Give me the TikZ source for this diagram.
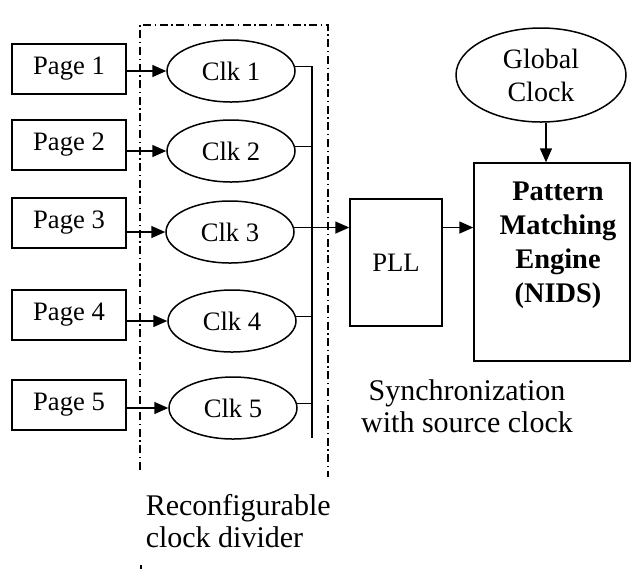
\documentclass[tikz,border=0pt]{standalone}
\usepackage{fontspec}
\setmainfont{Liberation Serif}
\usetikzlibrary{shapes.geometric,arrows.meta,calc}
\begin{document}
\begin{tikzpicture}[x=0.5pt,y=-0.5pt,
  line width=0.75pt,
  pagebox/.style={draw,rectangle,minimum width=57pt,minimum height=25pt,inner sep=0pt,
    font=\fontsize{13.3}{16}\selectfont},
  clkoval/.style={draw,ellipse,minimum width=64pt,minimum height=31pt,inner sep=0pt,
    font=\fontsize{13.3}{16}\selectfont},
  arr/.style={-{Triangle[length=7pt,width=6pt]}},
  dashdotline/.style={dash pattern=on 4pt off 1.8pt on 0.7pt off 1.8pt},
  note/.style={font=\fontsize{15}{16}\selectfont,inner sep=0pt}
]
\useasboundingbox (0,0) rectangle (632,570);

% reconfigurable divider enclosure (open at the bottom)
\draw[dashdotline] (140,470) -- (140,25) -- (328,25) -- (328,477);
\draw (141,565) -- (141,569);

% page sources
\node[pagebox] (p1) at (69,69)  {Page 1};
\node[pagebox] (p2) at (69,145) {Page 2};
\node[pagebox] (p3) at (69,223) {Page 3};
\node[pagebox] (p4) at (69,315) {Page 4};
\node[pagebox] (p5) at (69,405) {Page 5};

% clock dividers
\node[clkoval] (c1) at (231,71)  {Clk 1};
\node[clkoval] (c2) at (231,151) {Clk 2};
\node[clkoval] (c3) at (230,232) {Clk 3};
\node[clkoval] (c4) at (232,321) {Clk 4};
\node[clkoval] (c5) at (233,408) {Clk 5};

\foreach \i in {1,...,5} {
  \draw[arr] (p\i.east |- c\i) -- (c\i.west);
}

% common bus
\coordinate (bustop) at (312,66);
\coordinate (busbot) at (312,438);
\draw (bustop) -- (busbot);
\foreach \i in {1,2,4,5} {
  \draw (c\i.4) -- (c\i.4 -| bustop);
}

% PLL and engine
\node[draw,rectangle,minimum width=46pt,minimum height=63.5pt,inner sep=0pt,
  font=\fontsize{13.3}{16}\selectfont] (pll) at (396,262.5) {PLL};
\node[draw,rectangle,minimum width=78pt,minimum height=99pt,inner sep=0pt] (pme) at (552,262) {};
\node[font=\bfseries\fontsize{14.2}{17}\selectfont,align=center,inner sep=0pt] (pmetext) at (558,245)
  {Pattern\\Matching\\Engine\\(NIDS)};

\draw[arr] (c3.4) -- (c3.4 -| pll.west);
\draw[arr] (c3.4 -| pll.east) -- (c3.4 -| pme.west);

% global clock
\node[draw,ellipse,minimum width=85pt,minimum height=47pt,inner sep=0pt,align=center,
  font=\fontsize{14}{16.5}\selectfont] (gc) at (541,75) {Global\\Clock};
\coordinate (gcout) at ($(gc.south)+(5,0)$);
\draw[arr] (gcout) -- (gcout |- pme.north);

% annotations
\node[note,align=center] (sync) at (467,406) {Synchronization\\with source clock};
\node[note,align=left,anchor=west] (divlabel) at (145,521) {Reconfigurable\\clock divider};
\end{tikzpicture}
\end{document}
